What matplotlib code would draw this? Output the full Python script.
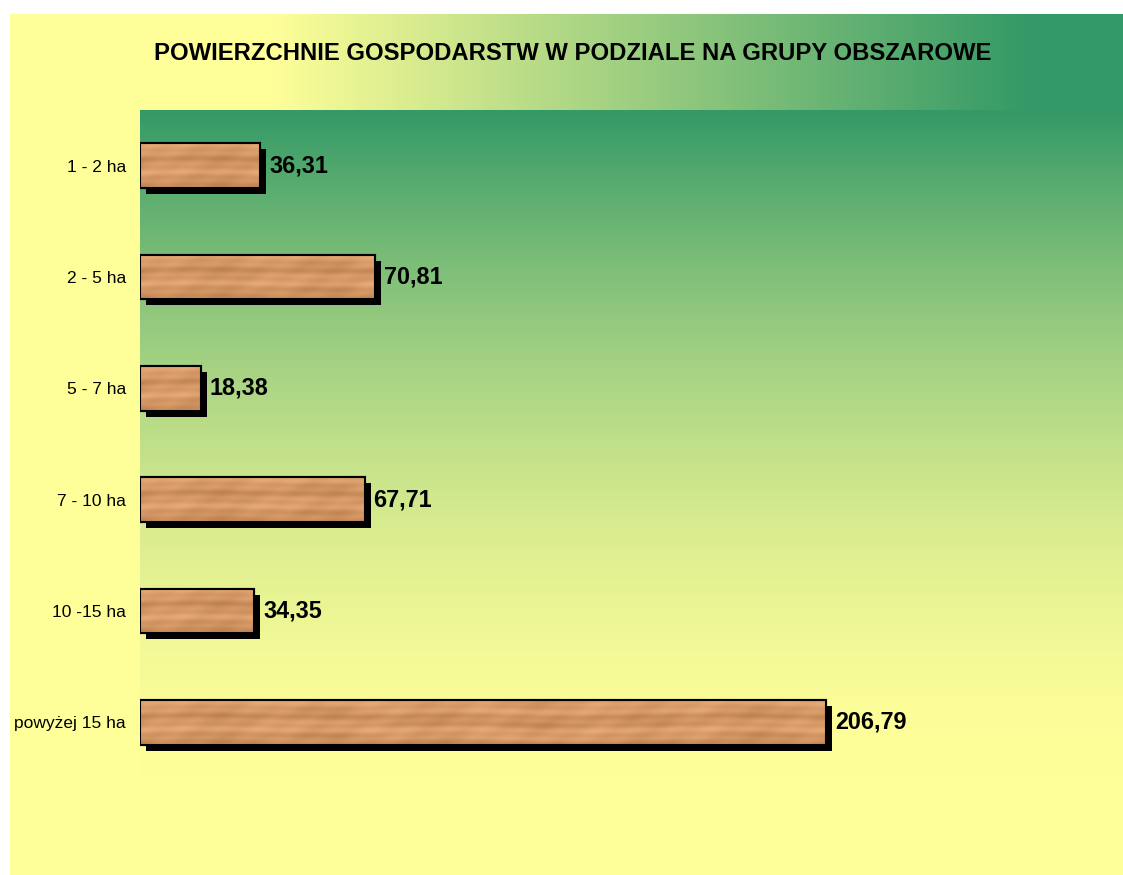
import numpy as np
import matplotlib
matplotlib.use('Agg')
import matplotlib.pyplot as plt
import matplotlib.patheffects as pe

plt.rcParams['font.family'] = 'Liberation Sans'

# dane
kategorie = ['1 - 2 ha', '2 - 5 ha', '5 - 7 ha', '7 - 10 ha', '10 -15 ha', 'powyżej 15 ha']
wartosci = [36.31, 70.81, 18.38, 67.71, 34.35, 206.79]
tytul = 'POWIERZCHNIE GOSPODARSTW W PODZIALE NA GRUPY OBSZAROWE'

W, H = 1123, 875
fig = plt.figure(figsize=(W / 100, H / 100), dpi=100)

# tło: żółte pole, pasek tytułu z gradientem poziomym, obszar wykresu z gradientem pionowym
zolty = np.array([255, 255, 153]) / 255
zielony = np.array([51, 153, 102]) / 255
img = np.ones((H, W, 3))
yy, xx = np.mgrid[0:H, 0:W]
img[14:, 10:] = zolty

pasek = (yy >= 14) & (yy < 110) & (xx >= 10)
s = np.clip((xx - 270) / 760, 0, 1)
img[pasek] = zolty * (1 - s[pasek, None]) + zielony * s[pasek, None]

obszar = (yy >= 110) & (yy < 778) & (xx >= 140)
s2 = np.clip((yy - 110) / (778 - 110), 0, 1)
t2 = 1 - (1 - s2) ** 1.7
img[obszar] = zielony * (1 - t2[obszar, None]) + zolty * t2[obszar, None]

bg = fig.add_axes([0, 0, 1, 1])
bg.imshow(img, aspect='auto', interpolation='bilinear')
bg.axis('off')

# osie wykresu
ax = fig.add_axes([140 / W, (H - 778) / H, (W - 140) / W, (778 - 110) / H])
ax.patch.set_visible(False)
y = np.arange(len(wartosci))

bars = ax.barh(y, wartosci, height=0.4, color='#d4955f', edgecolor='black',
               linewidth=1.5, zorder=2)
for b in bars:
    b.set_path_effects([pe.SimplePatchShadow(offset=(4.3, -4.3), shadow_rgbFace='black', alpha=1.0),
                        pe.Normal()])

# tekstura drewna (deterministyczna, poziome słoje)
r, c = np.mgrid[0:45, 0:700]
v = (0.62 + 0.13 * np.sin(2 * np.pi * r / 24 + 0.9 * np.sin(c / 85.0) + 0.4 * np.sin(c / 23.0))
     + 0.09 * np.sin(2 * np.pi * r / 9 + 0.7 * np.sin(c / 40.0))
     + 0.05 * np.sin(c / 6.0 + r / 4.0) + 0.05 * np.sin(c / 17.0))
v = np.clip(v, 0, 1)[..., None]
ciemny = np.array([170, 108, 62]) / 255
jasny = np.array([236, 176, 124]) / 255
tekstura = ciemny * (1 - v) + jasny * v

for i, (b, val) in enumerate(zip(bars, wartosci)):
    ncol = max(2, int(val * 3.317))
    im = ax.imshow(tekstura[:, :ncol], extent=[0, val, i + 0.2, i - 0.2],
                   aspect='auto', interpolation='bilinear', zorder=3)
    im.set_clip_path(b)

ax.barh(y, wartosci, height=0.4, fill=False, edgecolor='black', linewidth=1.5, zorder=4)

for i, val in enumerate(wartosci):
    ax.annotate(f'{val:.2f}'.replace('.', ','), (val, i), xytext=(6.5, 0),
                textcoords='offset points', ha='left', va='center',
                fontsize=16.8, fontweight='bold', zorder=5)

ax.set_xlim(0, (W - 140) / 3.317)
ax.set_ylim(5.5, -0.5)
ax.set_yticks(y, kategorie, fontsize=12.5)
ax.set_xticks([])
ax.tick_params(axis='y', length=0, pad=10)
for sp in ax.spines.values():
    sp.set_visible(False)

fig.text(573 / W, 1 - 54 / H, tytul, ha='center', va='center',
         fontsize=17.2, fontweight='bold')

fig.savefig('out.png', dpi=100)
